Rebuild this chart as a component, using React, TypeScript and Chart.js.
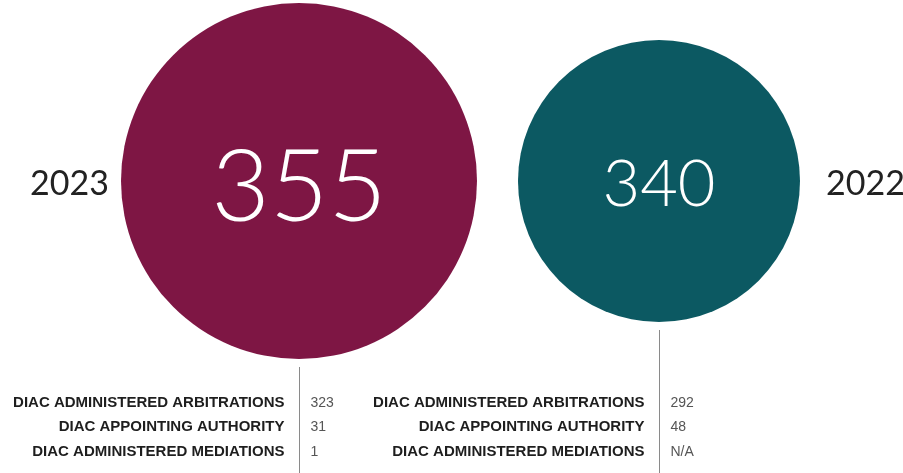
import React, { useEffect, useRef } from "react";
import { Chart, registerables } from "chart.js";

Chart.register(...registerables);

const years = ["2023", "2022"];
const totals = [355, 340];
const breakdownLabels = [
  "DIAC ADMINISTERED ARBITRATIONS",
  "DIAC APPOINTING AUTHORITY",
  "DIAC ADMINISTERED MEDIATIONS",
];
const breakdown2023 = ["323", "31", "1"];
const breakdown2022 = ["292", "48", "N/A"];
const breakdowns = [breakdown2023, breakdown2022];

const circleColors = ["#7e1644", "#0c5962"];
const circleRadii = [178, 141];
const totalFontSizes = [101, 65];
const totalOffsets = [7, 4];

const overlayPlugin = {
  id: "overlay",
  afterDatasetsDraw(chart: any) {
    const ctx = chart.ctx as CanvasRenderingContext2D;
    const meta = chart.getDatasetMeta(0);
    const H = chart.height;
    ctx.save();
    meta.data.forEach((el: any, i: number) => {
      const r = circleRadii[i];
      // total number
      ctx.fillStyle = "#ffffff";
      ctx.textAlign = "center";
      ctx.textBaseline = "middle";
      ctx.font = `300 ${totalFontSizes[i]}px Lato, "Open Sans", sans-serif`;
      ctx.fillText(String(totals[i]), el.x, el.y + totalOffsets[i]);

      // year label
      ctx.fillStyle = "#222222";
      ctx.font = `400 34px Lato, "Open Sans", sans-serif`;
      if (i === 0) {
        ctx.textAlign = "right";
        ctx.fillText(years[i], el.x - r - 12, el.y + 3);
      } else {
        ctx.textAlign = "left";
        ctx.fillText(years[i], el.x + r + 26, el.y + 3);
      }

      // connector line
      const lx = Math.round(el.x) + 0.5;
      ctx.strokeStyle = "#8a8a8a";
      ctx.lineWidth = 1;
      ctx.beginPath();
      ctx.moveTo(lx, el.y + r + 8);
      ctx.lineTo(lx, H);
      ctx.stroke();

      // breakdown table
      const rowsY = [403, 427, 452];
      breakdownLabels.forEach((lab, k) => {
        ctx.textBaseline = "middle";
        ctx.textAlign = "right";
        ctx.fillStyle = "#1e1e1e";
        ctx.font = `bold 15px "Liberation Sans", Arial, sans-serif`;
        ctx.fillText(lab, lx - 15, rowsY[k]);
        ctx.textAlign = "left";
        ctx.fillStyle = "#555555";
        ctx.font = `14px "Liberation Sans", Arial, sans-serif`;
        ctx.fillText(breakdowns[i][k], lx + 11, rowsY[k]);
      });
    });
    ctx.restore();
  },
};

export default function App() {
  const canvasRef = useRef<HTMLCanvasElement | null>(null);

  useEffect(() => {
    if (!canvasRef.current) return;
    const chart = new Chart(canvasRef.current, {
      type: "scatter",
      data: {
        labels: years,
        datasets: [
          {
            data: totals.map((_, i) => ({ x: i, y: 0 })),
            backgroundColor: circleColors,
            borderWidth: 0,
            pointRadius: circleRadii,
            pointHoverRadius: circleRadii,
            clip: false as any,
          },
        ],
      },
      options: {
        responsive: false,
        animation: false,
        events: [],
        layout: { padding: 0, autoPadding: false },
        plugins: { legend: { display: false }, tooltip: { enabled: false } },
        scales: {
          x: { type: "linear", display: false, min: -0.83056, max: 1.67778 },
          y: { type: "linear", display: false, min: -1, max: 0.61985 },
        },
      },
      plugins: [overlayPlugin],
    });
    return () => chart.destroy();
  }, []);

  return (
    <div style={{ position: "fixed", left: 0, top: 0, width: 903, height: 473, background: "#fff" }}>
      <canvas ref={canvasRef} width={903} height={473} />
    </div>
  );
}
